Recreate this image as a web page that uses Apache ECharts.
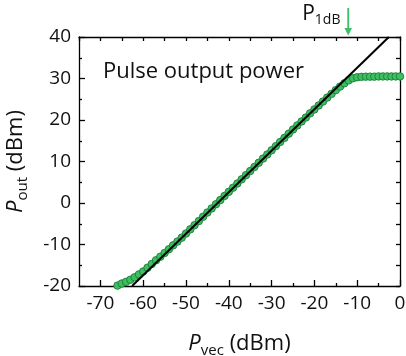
<!DOCTYPE html>
<html>
<head>
<meta charset="utf-8">
<script src="https://cdn.jsdelivr.net/npm/echarts@6/dist/echarts.min.js"></script>
<style>html,body{margin:0;padding:0;background:#fff;}#c{width:406px;height:356px;}</style>
</head>
<body>
<div id="c"></div>
<script>
// ---- data ----
var pvec = [-66,-65,-64,-63,-62,-61,-60,-59,-58,-57,-56,-55,-54,-53,-52,-51,-50,-49,-48,-47,-46,-45,-44,-43,-42,-41,-40,-39,-38,-37,-36,-35,-34,-33,-32,-31,-30,-29,-28,-27,-26,-25,-24,-23,-22,-21,-20,-19,-18,-17,-16,-15,-14,-13,-12,-11,-10,-9,-8,-7,-6,-5,-4,-3,-2,-1,0];
var pout = [-19.9,-19.4,-19.0,-18.5,-17.9,-17.2,-16.5,-15.6,-14.7,-13.8,-12.95,-12.05,-11.15,-10.2,-9.3,-8.35,-7.35,-6.35,-5.35,-4.35,-3.3,-2.3,-1.3,-0.3,0.7,1.7,2.7,3.7,4.7,5.7,6.7,7.7,8.7,9.7,10.7,11.7,12.7,13.7,14.7,15.7,16.7,17.7,18.7,19.65,20.6,21.6,22.55,23.5,24.45,25.4,26.3,27.2,28.05,28.85,29.55,30.05,30.3,30.4,30.45,30.45,30.45,30.5,30.5,30.5,30.5,30.5,30.5];
var fitX = [-62.6, -2.6];
var fitY = [-20, 40];
var p1dbX = -12.1;
var xMajorTicks = [-70,-60,-50,-40,-30,-20,-10,0];
var xMinorTicks = [-65,-55,-45,-35,-25,-15,-5];
var xRange = [-75, 0];
var yRange = [-20, 40];

var FONT = '"Open Sans", "Noto Sans", sans-serif';
var chart = echarts.init(document.getElementById('c'), null, {renderer: 'canvas'});

var axisLineStyle = {color: '#000', width: 1.3};
var grid = {left: 79, right: 6, top: 37, bottom: 70, containLabel: false, outerBoundsMode: 'none'};

var option = {
  animation: false,
  backgroundColor: '#fff',
  grid: grid,
  title: {
    text: 'Pulse output power', left: 98, top: 56,
    textStyle: {fontFamily: FONT, fontSize: 22, fontWeight: 'normal', color: '#111'}
  },
  xAxis: [
    {
      type: 'value', min: xRange[0], max: xRange[1], position: 'bottom',
      axisLine: {show: true, onZero: false, lineStyle: axisLineStyle},
      axisTick: {show: true, inside: true, length: 6, lineStyle: axisLineStyle, customValues: xMajorTicks},
      axisLabel: {show: true, customValues: xMajorTicks, margin: 8, color: '#111', fontFamily: FONT, fontSize: 19},
      splitLine: {show: false},
      name: '{i|P}{s|vec}{n| (dBm)}', nameLocation: 'middle', nameGap: 43,
      nameTextStyle: {
        fontFamily: FONT, fontSize: 22, color: '#111',
        rich: {
          i: {fontFamily: FONT, fontSize: 22, fontStyle: 'italic', color: '#111'},
          s: {fontFamily: FONT, fontSize: 15, color: '#111', padding: [14, 0, 0, 0]},
          n: {fontFamily: FONT, fontSize: 22, color: '#111'}
        }
      }
    },
    {
      type: 'value', min: xRange[0], max: xRange[1], position: 'bottom',
      axisLine: {show: false, onZero: false},
      axisTick: {show: true, inside: true, length: 3, lineStyle: axisLineStyle, customValues: xMinorTicks},
      axisLabel: {show: false}, splitLine: {show: false}
    },
    {
      type: 'value', min: xRange[0], max: xRange[1], interval: 5, position: 'top',
      axisLine: {show: true, onZero: false, lineStyle: axisLineStyle},
      axisTick: {show: true, inside: true, length: 4, lineStyle: axisLineStyle},
      axisLabel: {show: false}, splitLine: {show: false}
    }
  ],
  yAxis: [
    {
      type: 'value', min: yRange[0], max: yRange[1], interval: 10, position: 'left',
      axisLine: {show: true, onZero: false, lineStyle: axisLineStyle},
      axisTick: {show: true, inside: true, length: 6, lineStyle: axisLineStyle},
      minorTick: {show: true, splitNumber: 2, length: 3, lineStyle: axisLineStyle},
      axisLabel: {show: true, margin: 8, color: '#111', fontFamily: FONT, fontSize: 19},
      splitLine: {show: false}, minorSplitLine: {show: false},
      name: '{i|P}{s|out}{n| (dBm)}', nameLocation: 'middle', nameGap: 49,
      nameTextStyle: {
        fontFamily: FONT, fontSize: 22, color: '#111',
        rich: {
          i: {fontFamily: FONT, fontSize: 22, fontStyle: 'italic', color: '#111'},
          s: {fontFamily: FONT, fontSize: 15, color: '#111', padding: [14, 0, 0, 0]},
          n: {fontFamily: FONT, fontSize: 22, color: '#111'}
        }
      }
    },
    {
      type: 'value', min: yRange[0], max: yRange[1], interval: 5, position: 'right',
      axisLine: {show: true, onZero: false, lineStyle: axisLineStyle},
      axisTick: {show: true, inside: true, length: 4, lineStyle: axisLineStyle},
      axisLabel: {show: false}, splitLine: {show: false}
    }
  ],
  series: [
    {
      type: 'scatter', xAxisIndex: 0, yAxisIndex: 0,
      data: pvec.map(function (x, i) { return [x, pout[i]]; }),
      symbol: 'circle', symbolSize: 7.5,
      itemStyle: {color: '#3cbf60', borderColor: '#1d7a39', borderWidth: 0.9, opacity: 1},
      z: 2
    },
    {
      type: 'line', xAxisIndex: 0, yAxisIndex: 0,
      data: fitX.map(function (x, i) { return [x, fitY[i]]; }),
      showSymbol: false, symbol: 'none',
      lineStyle: {color: '#000', width: 2},
      z: 3
    }
  ]
};
chart.setOption(option);

// P1dB annotation
var ax = chart.convertToPixel({xAxisIndex: 0}, p1dbX);
var topY = grid.top;
chart.setOption({
  graphic: [
    {type: 'line', shape: {x1: ax, y1: 8, x2: ax, y2: topY - 6}, style: {stroke: '#3dbf6a', lineWidth: 1.8}, z: 10},
    {type: 'polygon', shape: {points: [[ax - 3.8, topY - 9], [ax + 3.8, topY - 9], [ax, topY - 1.5]]}, style: {fill: '#3dbf6a'}, z: 10},
    {type: 'text', left: ax - 46, top: 4, z: 10,
      style: {
        text: '{p|P}{s|1dB}',
        rich: {
          p: {fontFamily: FONT, fontSize: 21, fill: '#111'},
          s: {fontFamily: FONT, fontSize: 14, fill: '#111', padding: [12, 0, 0, 0]}
        }
      }
    }
  ]
});
</script>
</body>
</html>
